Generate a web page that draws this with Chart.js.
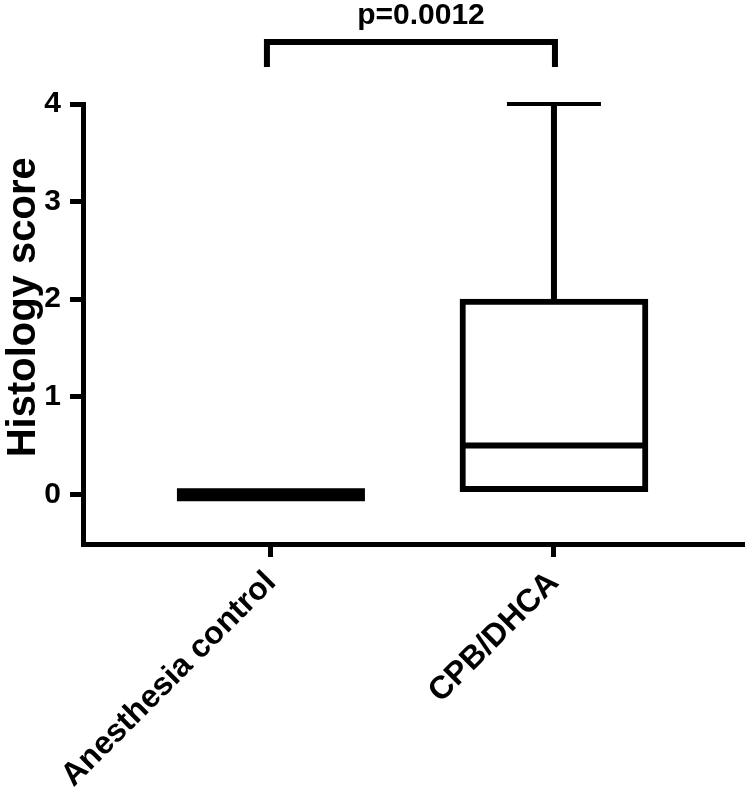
<!DOCTYPE html>
<html>
<head>
<meta charset="utf-8">
<script src="https://cdn.jsdelivr.net/npm/chart.js@4/dist/chart.umd.min.js"></script>
<style>
  html, body { margin: 0; padding: 0; background: #ffffff; }
  #wrap { width: 745px; height: 798px; position: relative; }
</style>
</head>
<body>
<div id="wrap"><canvas id="c"></canvas></div>
<script>
// ---- data ----
const categories = ["Anesthesia control", "CPB/DHCA"];
const mins    = [0, 0];
const q1s     = [0, 0];
const medians = [0, 0.5];
const q3s     = [0, 2];
const maxs    = [0, 4];
const yTickValues = [0, 1, 2, 3, 4];
const yAxisTitle = "Histology score";
const pLabel = "p=0.0012";
const compareGroups = [0, 1];

const FONT = "'Liberation Sans', Arial, Helvetica, sans-serif";

const boxData = categories.map((c, i) => ({ x: i, y: [q1s[i], q3s[i]] }));

const boxPlugin = {
  id: 'boxExtras',
  afterDatasetsDraw(chart) {
    const ctx = chart.ctx;
    const xs = chart.scales.x, ys = chart.scales.y;
    const boxW = 188;
    ctx.save();
    ctx.strokeStyle = '#000';
    ctx.fillStyle = '#000';
    categories.forEach((c, i) => {
      const xc = xs.getPixelForValue(i);
      if (q1s[i] === q3s[i]) {
        const yy = ys.getPixelForValue(medians[i]);
        ctx.fillRect(xc - boxW / 2, yy - 6, boxW, 13);
      } else {
        const ym = ys.getPixelForValue(medians[i]);
        ctx.lineWidth = 6;
        ctx.beginPath();
        ctx.moveTo(xc - boxW / 2 + 3, ym);
        ctx.lineTo(xc + boxW / 2 - 3, ym);
        ctx.stroke();
      }
      if (maxs[i] > q3s[i]) {
        const y3 = ys.getPixelForValue(q3s[i]);
        const yM = ys.getPixelForValue(maxs[i]);
        ctx.lineWidth = 6;
        ctx.beginPath();
        ctx.moveTo(xc, y3);
        ctx.lineTo(xc, yM);
        ctx.stroke();
        ctx.lineWidth = 4;
        ctx.beginPath();
        ctx.moveTo(xc - boxW / 4, yM);
        ctx.lineTo(xc + boxW / 4, yM);
        ctx.stroke();
      }
      if (mins[i] < q1s[i]) {
        const y1 = ys.getPixelForValue(q1s[i]);
        const ym0 = ys.getPixelForValue(mins[i]);
        ctx.lineWidth = 6;
        ctx.beginPath();
        ctx.moveTo(xc, y1);
        ctx.lineTo(xc, ym0);
        ctx.stroke();
        ctx.lineWidth = 4;
        ctx.beginPath();
        ctx.moveTo(xc - boxW / 4, ym0);
        ctx.lineTo(xc + boxW / 4, ym0);
        ctx.stroke();
      }
    });
    // significance bracket
    const xa = xs.getPixelForValue(compareGroups[0]) - 4;
    const xb = xs.getPixelForValue(compareGroups[1]) + 1;
    const yTop = 42, yLeg = 67;
    ctx.lineWidth = 6;
    ctx.lineJoin = 'miter';
    ctx.lineCap = 'butt';
    ctx.beginPath();
    ctx.moveTo(xa, yLeg);
    ctx.lineTo(xa, yTop);
    ctx.lineTo(xb, yTop);
    ctx.lineTo(xb, yLeg);
    ctx.stroke();
    ctx.font = "bold 30px " + FONT;
    ctx.textAlign = 'center';
    ctx.textBaseline = 'alphabetic';
    ctx.fillText(pLabel, (xa + xb) / 2 + 10, 24);
    ctx.restore();
  }
};

new Chart(document.getElementById('c'), {
  type: 'bar',
  data: {
    datasets: [{
      data: boxData,
      backgroundColor: '#ffffff',
      borderColor: '#000000',
      borderWidth: 6,
      borderSkipped: false,
      barThickness: 188
    }]
  },
  options: {
    responsive: true,
    maintainAspectRatio: false,
    animation: false,
    devicePixelRatio: 1,
    layout: { padding: { top: 104, right: 0, left: 0, bottom: 0 } },
    plugins: { legend: { display: false }, tooltip: { enabled: false } },
    scales: {
      x: {
        type: 'linear',
        offset: false,
        min: -0.664,
        max: 1.675,
        afterBuildTicks: (s) => { s.ticks = categories.map((c, i) => ({ value: i })); },
        afterFit: (s) => { s.height = 254; },
        grid: { offset: false, drawOnChartArea: false, drawTicks: true, tickLength: 13, lineWidth: 5, color: '#000' },
        border: { display: true, width: 5, color: '#000' },
        ticks: {
          callback: (v) => categories[v] ?? '',
          color: '#000',
          font: { family: FONT, size: 32, weight: 'bold' },
          maxRotation: 45, minRotation: 45,
          autoSkip: false,
          padding: 7
        }
      },
      y: {
        type: 'linear',
        min: -0.51,
        max: 4,
        afterBuildTicks: (s) => { s.ticks = yTickValues.map(v => ({ value: v })); },
        afterFit: (s) => { s.width = 83; },
        grid: { drawOnChartArea: false, drawTicks: true, tickLength: 13, lineWidth: 5, color: '#000' },
        border: { display: true, width: 5, color: '#000' },
        ticks: {
          color: '#000',
          font: { family: FONT, size: 30, weight: 'bold' },
          padding: 9
        },
        title: {
          display: true,
          text: "   " + yAxisTitle,
          color: '#000',
          font: { family: FONT, size: 40, weight: 'bold' },
          padding: { top: 0, bottom: 0 }
        }
      }
    }
  },
  plugins: [boxPlugin]
});
</script>
</body>
</html>
